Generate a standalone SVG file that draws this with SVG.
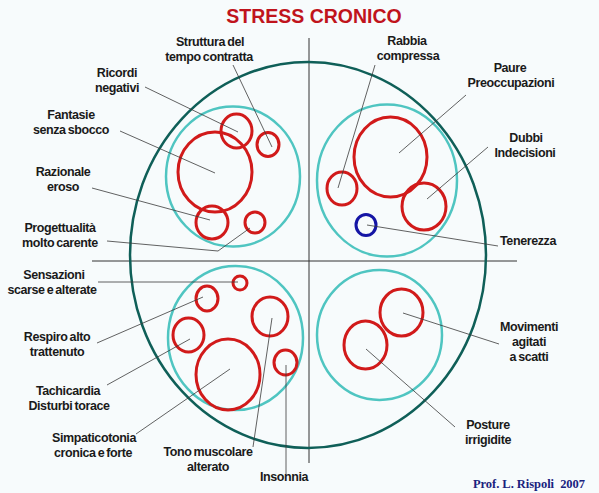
<svg xmlns="http://www.w3.org/2000/svg" width="599" height="493" viewBox="0 0 599 493">
<style>
.lbl{font-family:"Liberation Sans",Arial,sans-serif;font-weight:bold;font-size:12.5px;fill:#1a1a1a;text-anchor:middle;letter-spacing:-0.4px;word-spacing:-1px}
.title{font-family:"Liberation Sans",Arial,sans-serif;font-weight:bold;font-size:19.5px;fill:#c0141c;text-anchor:middle}
.sig{font-family:"Liberation Serif","Times New Roman",serif;font-weight:bold;font-size:12.5px;fill:#1a237e}
.outer{fill:none;stroke:#0f5f58;stroke-width:2.5}
.cyan{fill:none;stroke:#4fc5c1;stroke-width:2.5}
.red{fill:none;stroke:#d11a1a;stroke-width:3}
.blue{fill:none;stroke:#1515a5;stroke-width:3}
.lead{fill:none;stroke:#3a3a3a;stroke-width:0.8}
.axis{fill:none;stroke:#333;stroke-width:1}
</style>
<rect width="599" height="493" fill="#f7fbfc"/>
<text class="title" x="314" y="23">STRESS CRONICO</text>
<g id="frame">
<line class="axis" x1="309" y1="38" x2="309" y2="463"/>
<line class="axis" x1="92" y1="261" x2="517" y2="261"/>
<ellipse class="outer" cx="308" cy="255" rx="178" ry="193"/>
</g>
<g id="q-top-left">
<ellipse class="cyan" cx="233" cy="176.5" rx="67" ry="70"/>
<ellipse class="red" cx="215" cy="172" rx="37" ry="40"/>
<ellipse class="red" cx="236.5" cy="131" rx="15.5" ry="17"/>
<ellipse class="red" cx="268" cy="144.5" rx="11" ry="12"/>
<ellipse class="red" cx="212" cy="222.5" rx="16" ry="16.5"/>
<ellipse class="red" cx="255" cy="222.5" rx="10" ry="10.5"/>
</g>
<g id="q-top-right">
<ellipse class="cyan" cx="387" cy="180.5" rx="70" ry="76"/>
<ellipse class="red" cx="390.5" cy="157" rx="36.5" ry="40"/>
<ellipse class="red" cx="342" cy="188.5" rx="15" ry="16.5"/>
<ellipse class="red" cx="424" cy="206.5" rx="22" ry="23.5"/>
<ellipse class="blue" cx="366" cy="225" rx="10" ry="10.5"/>
</g>
<g id="q-bottom-left">
<ellipse class="cyan" cx="235.5" cy="338" rx="67.5" ry="72"/>
<ellipse class="red" cx="240" cy="283" rx="7" ry="7"/>
<ellipse class="red" cx="207" cy="298.5" rx="11" ry="12.5"/>
<ellipse class="red" cx="188.5" cy="335" rx="15.5" ry="17"/>
<ellipse class="red" cx="228" cy="374.5" rx="32" ry="35.5"/>
<ellipse class="red" cx="270" cy="316.5" rx="18" ry="19.5"/>
<ellipse class="red" cx="285.5" cy="362.5" rx="11.5" ry="12.5"/>
</g>
<g id="q-bottom-right">
<ellipse class="cyan" cx="379.5" cy="335" rx="62.5" ry="65"/>
<ellipse class="red" cx="401.5" cy="312.5" rx="21.5" ry="23.5"/>
<ellipse class="red" cx="365.5" cy="345" rx="21.5" ry="24"/>
</g>
<g id="connectors">
<line class="lead" x1="145" y1="87" x2="238" y2="132"/>
<line class="lead" x1="233" y1="65" x2="272" y2="147"/>
<line class="lead" x1="120" y1="131" x2="215" y2="173"/>
<line class="lead" x1="92" y1="188" x2="210" y2="220"/>
<polyline class="lead" points="107,241 218,251 250,228"/>
<line class="lead" x1="375" y1="65" x2="338" y2="188"/>
<line class="lead" x1="466" y1="95" x2="399" y2="153"/>
<line class="lead" x1="488" y1="147" x2="427" y2="199"/>
<line class="lead" x1="498" y1="246" x2="367" y2="225"/>
<line class="lead" x1="98" y1="282" x2="238" y2="282"/>
<line class="lead" x1="97" y1="343" x2="203" y2="297"/>
<line class="lead" x1="107" y1="385" x2="190" y2="339"/>
<line class="lead" x1="136" y1="434" x2="230" y2="369"/>
<line class="lead" x1="253" y1="447" x2="272" y2="318"/>
<line class="lead" x1="286" y1="474" x2="286" y2="365"/>
<line class="lead" x1="499" y1="344" x2="403" y2="313"/>
<line class="lead" x1="455" y1="427" x2="366" y2="349"/>
</g>
<g id="labels">
<g id="l-struttura"><text class="lbl" x="210" y="46">Struttura del</text><text class="lbl" x="209" y="61">tempo contratta</text></g>
<g id="l-ricordi"><text class="lbl" x="117" y="77">Ricordi</text><text class="lbl" x="117" y="92">negativi</text></g>
<g id="l-fantasie"><text class="lbl" x="71" y="119">Fantasie</text><text class="lbl" x="71" y="134">senza sbocco</text></g>
<g id="l-razionale"><text class="lbl" x="63" y="176">Razionale</text><text class="lbl" x="63" y="191">eroso</text></g>
<g id="l-progettualita"><text class="lbl" x="60" y="232">Progettualità</text><text class="lbl" x="60" y="247">molto carente</text></g>
<g id="l-sensazioni"><text class="lbl" x="54" y="279">Sensazioni</text><text class="lbl" x="52" y="294">scarse e alterate</text></g>
<g id="l-respiro"><text class="lbl" x="57" y="341">Respiro alto</text><text class="lbl" x="57" y="356">trattenuto</text></g>
<g id="l-tachicardia"><text class="lbl" x="68" y="395">Tachicardia</text><text class="lbl" x="69" y="410">Disturbi torace</text></g>
<g id="l-simpaticotonia"><text class="lbl" x="94" y="442">Simpaticotonia</text><text class="lbl" x="93" y="457">cronica e forte</text></g>
<g id="l-tono"><text class="lbl" x="208" y="456">Tono muscolare</text><text class="lbl" x="208" y="471">alterato</text></g>
<g id="l-insonnia"><text class="lbl" x="284" y="481">Insonnia</text></g>
<g id="l-rabbia"><text class="lbl" x="407" y="45">Rabbia</text><text class="lbl" x="408" y="60">compressa</text></g>
<g id="l-paure"><text class="lbl" x="510" y="72">Paure</text><text class="lbl" x="511" y="87">Preoccupazioni</text></g>
<g id="l-dubbi"><text class="lbl" x="526" y="142">Dubbi</text><text class="lbl" x="525" y="157">Indecisioni</text></g>
<g id="l-tenerezza"><text class="lbl" x="528" y="245">Tenerezza</text></g>
<g id="l-movimenti"><text class="lbl" x="529" y="331">Movimenti</text><text class="lbl" x="529" y="346">agitati</text><text class="lbl" x="529" y="361">a scatti</text></g>
<g id="l-posture"><text class="lbl" x="488" y="429">Posture</text><text class="lbl" x="488" y="444">irrigidite</text></g>
</g>
<text class="sig" x="473" y="488" xml:space="preserve" textLength="112" lengthAdjust="spacing">Prof. L. Rispoli  2007</text>
</svg>
